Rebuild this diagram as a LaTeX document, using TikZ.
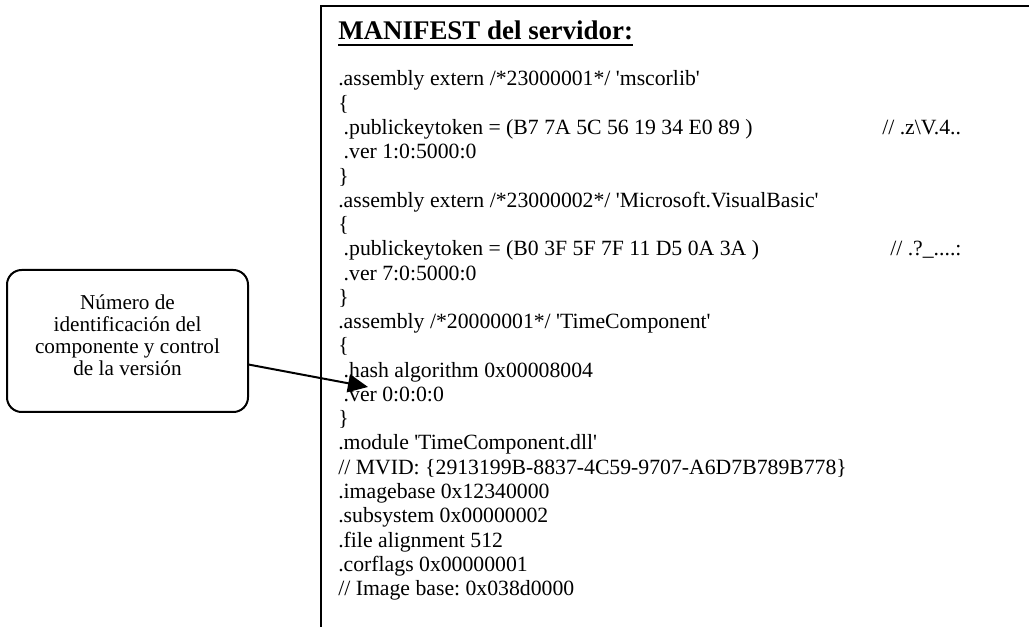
\documentclass[tikz,border=0pt]{standalone}
\usepackage{fontspec}
\setmainfont{Liberation Serif}
\usepackage{tikz}
\usetikzlibrary{arrows.meta,positioning}

% thick rule under the heading
\newcommand{\titleline}[1]{\setbox0\hbox{#1}\rlap{\rule[-4.4pt]{\wd0}{1.6pt}}\box0}
\newcommand{\sq}{\textquotesingle}
\frenchspacing

\begin{document}
\begin{tikzpicture}[
  x=0.75pt, y=-0.75pt,
  >=Triangle,
  % frame round the listing (top and left edge only)
  frame/.style={draw=black, line width=1.6pt, line join=miter},
  % heading of the listing
  heading/.style={anchor=base west, inner sep=0pt,
                  font=\fontsize{20.2pt}{24pt}\selectfont\bfseries},
  % listing lines
  listing/.style={anchor=base west, inner sep=0pt,
                  font=\fontsize{16.3pt}{18.2pt}\selectfont},
  % rounded note box on the left
  callout/.style={draw=black, line width=1.5pt, rounded corners=11pt,
                  minimum width=180.75pt, minimum height=106.5pt,
                  align=center, inner sep=2pt, text depth=9pt,
                  font=\fontsize{15.9pt}{16.6pt}\selectfont},
  % arrow from the note into the listing
  pointer/.style={-{Triangle[length=15pt, width=13.5pt]}, line width=1.5pt},
]
\useasboundingbox (0,0) rectangle (1029,627);

%% ── Frame ────────────────────────────────────────────────────────────────
\def\xf{321}   % left edge of the frame
\def\yf{6}     % top edge of the frame
\draw[frame] (\xf,627) -- (\xf,\yf) -- (1029,\yf);

%% ── Heading and listing ──────────────────────────────────────────────────
\node[heading] (title) at (338,40) {\titleline{MANIFEST del servidor:}};

\node[listing] (code) at (338,86) {%
  \begin{tabular}[t]{@{}l@{}}
  .assembly extern /*23000001*/ \sq mscorlib\sq\\
  \{\\
  \makebox[408pt][l]{\ .publickeytoken = (B7 7A 5C 56 19 34 E0 89 )}// .z\textbackslash V.4..\\
  \ .ver 1:0:5000:0\\
  \}\\
  .assembly extern /*23000002*/ \sq Microsoft.VisualBasic\sq\\
  \{\\
  \makebox[414pt][l]{\ .publickeytoken = (B0 3F 5F 7F 11 D5 0A 3A )}// .?\_....:\\
  \ .ver 7:0:5000:0\\
  \}\\
  .assembly /*20000001*/ \sq TimeComponent\sq\\
  \{\\
  \ .hash algorithm 0x00008004\\
  \ .ver 0:0:0:0\\
  \}\\
  .module \sq TimeComponent.dll\sq\\
  // MVID: \{2913199B-8837-4C59-9707-A6D7B789B778\}\\
  .imagebase 0x12340000\\
  .subsystem 0x00000002\\
  .file alignment 512\\
  .corflags 0x00000001\\
  // Image base: 0x038d0000
  \end{tabular}};

%% ── Note box and its arrow ───────────────────────────────────────────────
\node[callout] (idbox) at (127.5,341)
  {Número de\\identificación del\\componente y control\\de la versión};
\coordinate (vertip) at (368,387);
\draw[pointer] (idbox.-11.7) -- (vertip);

\end{tikzpicture}
\end{document}
